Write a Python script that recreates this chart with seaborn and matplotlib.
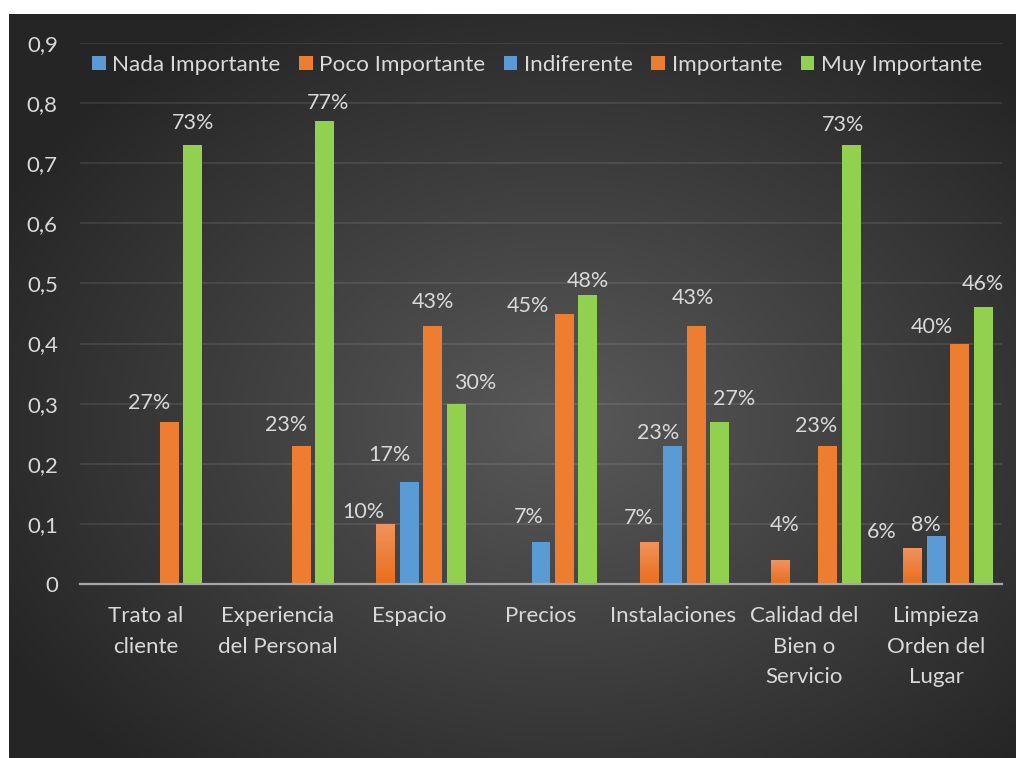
import matplotlib.pyplot as plt
import matplotlib.ticker as mticker
import numpy as np
import pandas as pd
import seaborn as sns
from matplotlib.patches import Patch

# data
categories = [
    "Trato al\ncliente",
    "Experiencia\ndel Personal",
    "Espacio",
    "Precios",
    "Instalaciones",
    "Calidad del\nBien o\nServicio",
    "Limpieza\nOrden del\nLugar",
]
series = ["Nada Importante", "Poco Importante", "Indiferente", "Importante", "Muy Importante"]
nada = [0, 0, 0, 0, 0, 0, 0]
poco = [0, 0, 0.10, 0, 0.07, 0.04, 0.06]
indiferente = [0, 0, 0.17, 0.07, 0.23, 0, 0.08]
importante = [0.27, 0.23, 0.43, 0.45, 0.43, 0.23, 0.40]
muy = [0.73, 0.77, 0.30, 0.48, 0.27, 0.73, 0.46]
y_ticks = [0, 0.1, 0.2, 0.3, 0.4, 0.5, 0.6, 0.7, 0.8, 0.9]

# manual label offsets (pixels, dx / dy above bar top) as in the original
label_offsets = {
    (0, 3): (-20, 19), (0, 4): (0, 22),
    (1, 3): (-15, 21), (1, 4): (4, 18),
    (2, 1): (-22, 12), (2, 2): (-20, 27), (2, 3): (0, 24), (2, 4): (19, 21),
    (3, 2): (-12, 25), (3, 3): (-37, 8), (3, 4): (0, 14),
    (4, 1): (-10, 24), (4, 2): (-15, 13), (4, 3): (-3, 28), (4, 4): (15, 23),
    (5, 1): (4, 35), (5, 3): (-12, 20), (5, 4): (-8, 20),
    (6, 1): (-31, 16), (6, 2): (-10, 11), (6, 3): (-28, 17), (6, 4): (0, 23),
}

values = [nada, poco, indiferente, importante, muy]
df = pd.DataFrame(
    [(c, s, v[i]) for s, v in zip(series, values) for i, c in enumerate(categories)],
    columns=["categoria", "serie", "valor"],
)

sns.set_theme(style="white")
plt.rcParams["font.family"] = ["Lato", "DejaVu Sans"]
text_color = "#D9D9D9"
colors = ["#5B9BD5", "#ED7D31", "#5B9BD5", "#ED7D31", "#92D050"]

fig = plt.figure(figsize=(10.18, 7.58), dpi=100)
fig.patch.set_facecolor("white")

# radial gradient background
bg = fig.add_axes([9 / 1018, 0, 1007 / 1018, 744 / 758], zorder=-5)
gx, gy = np.meshgrid(np.linspace(0, 1, 400), np.linspace(0, 1, 300))
r = np.sqrt(((gx - 0.55) / 0.64) ** 2 + ((gy - 0.55) / 0.64) ** 2)
r = np.clip(r, 0, 1)
light, dark = np.array([0x59, 0x59, 0x59]) / 255, np.array([0x25, 0x25, 0x25]) / 255
img = light[None, None, :] * (1 - r[..., None]) + dark[None, None, :] * r[..., None]
bg.imshow(img, extent=[0, 1, 0, 1], aspect="auto", origin="upper")
bg.set_axis_off()

ax = fig.add_axes([80 / 1018, 1 - 584 / 758, 922 / 1018, 541 / 758])
ax.set_facecolor("none")

sns.barplot(
    data=df, x="categoria", y="valor", hue="serie", hue_order=series,
    palette=colors, width=0.89, gap=0.19, linewidth=0, saturation=1,
    legend=False, ax=ax, zorder=3,
)

# light-to-dark gradient on "Poco Importante" bars
grad = np.linspace(0, 1, 64)[:, None]
top_c, bot_c = np.array([0xF2, 0x93, 0x5E]) / 255, np.array([0xE8, 0x6E, 0x1C]) / 255
gimg = top_c[None, None, :] * (1 - grad[..., None]) + bot_c[None, None, :] * grad[..., None]
for patch in ax.containers[1]:
    h = patch.get_height()
    if h <= 0:
        continue
    x0 = patch.get_x()
    im = ax.imshow(gimg, extent=[x0, x0 + patch.get_width(), 0, h], aspect="auto",
                   origin="upper", zorder=3.5)
    im.set_clip_path(patch)

ax.set_xlim(-0.5, 6.5)
ax.set_ylim(0, 0.9)
ax.set_yticks(y_ticks)
ax.yaxis.set_major_formatter(mticker.FuncFormatter(lambda v, p: "0" if v == 0 else f"{v:.1f}".replace(".", ",")))
ax.grid(axis="y", color="white", alpha=0.09, linewidth=1.5, zorder=0)
ax.set_axisbelow(True)
for side in ["top", "right", "left"]:
    ax.spines[side].set_visible(False)
ax.spines["bottom"].set_color("#A6A6A6")
ax.spines["bottom"].set_linewidth(1.6)
ax.spines["bottom"].set_zorder(4)
ax.tick_params(axis="y", length=0, pad=16, labelsize=16, labelcolor=text_color)
ax.tick_params(axis="x", length=0, pad=16, labelsize=16, labelcolor=text_color)
for lbl in ax.get_xticklabels():
    lbl.set_linespacing(1.66)
ax.set_xlabel("")
ax.set_ylabel("")

# data labels
for j, cont in enumerate(ax.containers):
    for i, patch in enumerate(cont):
        h = patch.get_height()
        if h <= 0:
            continue
        dx, dy = label_offsets.get((i, j), (0, 20))
        ax.annotate(f"{round(h * 100):.0f}%", (patch.get_x() + patch.get_width() / 2, h),
                    xytext=(dx, dy), textcoords="offset pixels", ha="center", va="center",
                    fontsize=15.5, color=text_color, zorder=5)

handles = [Patch(facecolor=c, edgecolor="none") for c in colors]
fig.legend(handles, series, loc="center", bbox_to_anchor=(537 / 1018, 1 - 65 / 758), ncol=5,
           frameon=False, fontsize=16.2, labelcolor=text_color, handlelength=0.6,
           handleheight=0.6, handletextpad=0.3, columnspacing=0.82)

fig.savefig("out.png", dpi=100)
